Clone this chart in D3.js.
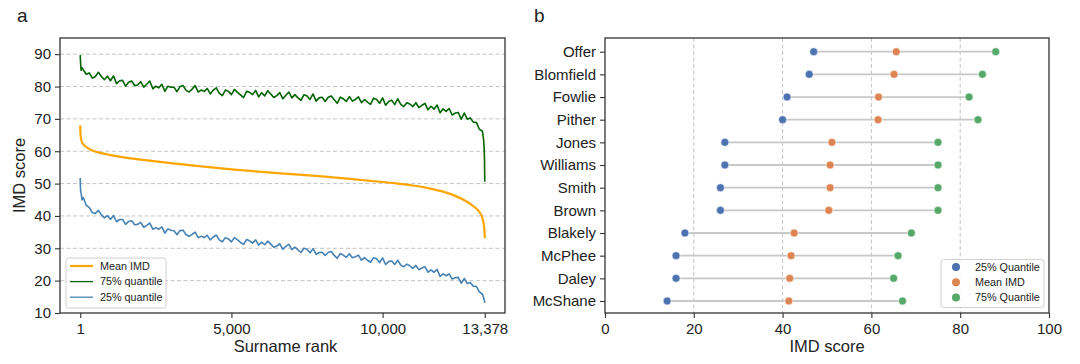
<!DOCTYPE html>
<html><head><meta charset="utf-8">
<script src="https://cdn.jsdelivr.net/npm/d3@7"></script>
<style>
html,body{margin:0;padding:0;background:#fff;}
svg{display:block;font-family:"Liberation Sans",Arial,sans-serif;}
</style></head>
<body><svg id="c" width="1080" height="364"></svg>
<script>
// ---------- Panel a data ----------
const meanRanks = [1,5,20,50,100,200,400,700,1000,1500,2000,3000,4000,5000,6000,7000,8000,9000,10000,10500,11000,11500,12000,12400,12750,13000,13200,13300,13350,13370,13378];
const meanIMD   = [68.0,66.0,64.2,63.0,62.2,61.3,60.2,59.4,58.8,58.0,57.4,56.3,55.3,54.4,53.6,52.9,52.2,51.4,50.5,50.0,49.4,48.6,47.5,46.2,44.6,43.0,41.2,39.3,37.0,35.2,33.1];

const qRanks = [1,10,30,60,
 100,200,300,400,500,600,700,800,900,1000,
 1100,1200,1300,1400,1500,1600,1700,1800,1900,2000,
 2100,2200,2300,2400,2500,2600,2700,2800,2900,3000,
 3100,3200,3300,3400,3500,3600,3700,3800,3900,4000,
 4100,4200,4300,4400,4500,4600,4700,4800,4900,5000,
 5100,5200,5300,5400,5500,5600,5700,5800,5900,6000,
 6100,6200,6300,6400,6500,6600,6700,6800,6900,7000,
 7100,7200,7300,7400,7500,7600,7700,7800,7900,8000,
 8100,8200,8300,8400,8500,8600,8700,8800,8900,9000,
 9100,9200,9300,9400,9500,9600,9700,9800,9900,10000,
 10100,10200,10300,10400,10500,10600,10700,10800,10900,11000,
 11100,11200,11300,11400,11500,11600,11700,11800,11900,12000,
 12100,12200,12300,12400,12500,12600,12700,12800,12900,13000,
 13100,13200,13300,13340,13360,13370,13378];

const q75 = [89.7,87.5,85.0,85.8,
 85.2,83.8,84.2,82.6,83.1,84.4,83.1,82.1,83.2,81.8,
 83.3,80.9,81.8,81.9,80.1,81.3,81.7,80.3,80.5,81.5,
 79.8,80.7,81.7,79.3,80.1,79.6,80.7,78.5,80.1,79.8,
 79.8,78.4,80.0,80.3,78.8,78.3,79.2,80.3,78.3,78.9,
 78.5,79.4,77.7,78.9,79.6,77.9,77.2,78.9,78.5,77.5,
 79.1,78.2,77.4,76.6,78.5,78.2,77.5,78.8,76.8,78.1,
 77.1,78.7,77.7,76.6,77.2,78.1,76.2,77.3,78.3,76.5,
 77.5,76.5,75.7,77.5,77.1,76.0,77.7,75.5,76.5,76.7,
 75.4,76.7,77.1,75.9,74.8,76.7,76.2,75.4,76.9,75.5,
 76.0,76.8,75.0,76.0,75.2,74.5,76.4,76.0,74.8,76.5,
 74.2,75.4,75.8,74.4,76.2,74.5,73.8,75.0,74.6,73.8,
 75.0,73.5,74.2,74.8,72.8,73.9,73.0,74.3,71.9,73.1,
 72.3,73.2,71.2,71.8,72.0,69.9,71.8,69.9,70.3,69.0,
 68.9,66.8,66.2,63.5,60.5,57.0,50.6];

const q25 = [51.7,48.0,46.9,45.0,
 45.7,43.3,42.6,41.0,40.8,41.7,40.4,39.4,40.1,39.0,
 40.1,38.2,38.9,38.9,37.4,38.3,38.5,37.3,37.4,38.0,
 36.5,37.1,37.8,35.9,36.4,35.9,36.6,34.7,36.0,35.6,
 35.4,34.2,35.5,35.6,34.2,33.7,34.3,35.0,33.3,33.7,
 33.3,34.0,32.6,33.5,34.1,32.6,32.0,33.3,32.9,32.0,
 33.3,32.6,31.8,31.2,32.7,32.3,31.6,32.6,31.0,31.9,
 31.1,32.2,31.3,30.3,30.7,31.4,29.7,30.6,31.2,29.6,
 30.4,29.5,28.7,30.0,29.7,28.6,29.9,28.1,28.7,28.8,
 27.8,28.7,29.0,27.8,26.9,28.4,27.9,27.2,28.3,27.1,
 27.4,27.9,26.3,27.1,26.3,25.7,27.1,26.8,25.6,27.0,
 25.0,25.9,26.1,25.0,26.3,24.8,24.3,25.1,24.6,23.8,
 24.7,23.4,23.9,24.3,22.6,23.3,22.6,23.5,21.3,22.1,
 21.5,22.1,20.5,20.9,21.0,19.2,20.7,19.1,19.4,18.3,
 18.2,16.5,15.8,14.8,14.0,13.6,13.1];

const rankTicks = [1,5000,10000,13378];
const imdTicksA = [10,20,30,40,50,60,70,80,90];

// ---------- Panel b data ----------
const surnames = ["Offer","Blomfield","Fowlie","Pither","Jones","Williams","Smith","Brown","Blakely","McPhee","Daley","McShane"];
const quant25  = [47,46,41,40,27,27,26,26,18,16,16,14];
const meanB    = [65.6,65.1,61.6,61.5,51.1,50.7,50.7,50.4,42.6,41.9,41.6,41.4];
const quant75  = [88,85,82,84,75,75,75,75,69,66,65,67];
const imdTicksB = [0,20,40,60,80,100];

// ---------- drawing ----------
const svg = d3.select("#c");
const axisCol = "#333";
const gridCol = "#c4c4c4";
const tickFont = 15;

function styleAxis(g){
  g.select(".domain").remove();
  g.selectAll(".tick line").attr("stroke",axisCol).attr("stroke-width",1.1);
  g.selectAll(".tick text").attr("fill","#222").style("font-size",tickFont+"px")
   .style("font-family",'"Liberation Sans",Arial,sans-serif');
}

// Panel a
const A = {l:60,r:505,t:38,b:313};
const xa = d3.scaleLinear().domain([-669,14047]).range([A.l,A.r]);
const ya = d3.scaleLinear().domain([10,95]).range([A.b,A.t]);

svg.append("defs").append("clipPath").attr("id","clipA")
  .append("rect").attr("x",A.l).attr("y",A.t).attr("width",A.r-A.l).attr("height",A.b-A.t);

svg.append("g").selectAll("line").data(imdTicksA.filter(d=>d>10)).join("line")
  .attr("x1",A.l).attr("x2",A.r).attr("y1",d=>ya(d)).attr("y2",d=>ya(d))
  .attr("stroke",gridCol).attr("stroke-width",1).attr("stroke-dasharray","4,2.5");

const lineGen = (rs,vs,curve)=>d3.line().curve(curve||d3.curveLinear).x((d,i)=>xa(rs[i])).y(d=>ya(d))(vs);
const gl = svg.append("g").attr("clip-path","url(#clipA)");
gl.append("path").attr("d",lineGen(meanRanks,meanIMD,d3.curveMonotoneX)).attr("fill","none")
  .attr("stroke","#ffa500").attr("stroke-width",2.2).attr("stroke-linejoin","round");
gl.append("path").attr("d",lineGen(qRanks,q75)).attr("fill","none")
  .attr("stroke","#006400").attr("stroke-width",1.6).attr("stroke-linejoin","round");
gl.append("path").attr("d",lineGen(qRanks,q25)).attr("fill","none")
  .attr("stroke","#4682b4").attr("stroke-width",1.6).attr("stroke-linejoin","round");

const axA_x = svg.append("g").attr("transform",`translate(0,${A.b})`)
  .call(d3.axisBottom(xa).tickValues(rankTicks).tickFormat(d3.format(",")).tickSize(5).tickPadding(5));
styleAxis(axA_x);
const axA_y = svg.append("g").attr("transform",`translate(${A.l},0)`)
  .call(d3.axisLeft(ya).tickValues(imdTicksA).tickSize(5).tickPadding(4));
styleAxis(axA_y);

svg.append("rect").attr("x",A.l).attr("y",A.t).attr("width",A.r-A.l).attr("height",A.b-A.t)
  .attr("fill","none").attr("stroke",axisCol).attr("stroke-width",1.3);

svg.append("text").attr("x",(A.l+A.r)/2 + 3).attr("y",352).attr("text-anchor","middle")
  .style("font-size","16.5px").attr("fill","#222").text("Surname rank");
svg.append("text").attr("transform",`translate(25,${(A.t+A.b)/2}) rotate(-90)`).attr("text-anchor","middle")
  .style("font-size","16.5px").attr("fill","#222").text("IMD score");
svg.append("text").attr("x",17).attr("y",22).style("font-size","19px").attr("fill","#222").text("a");

// legend a
const legA = svg.append("g");
legA.append("rect").attr("x",66).attr("y",258).attr("width",100).attr("height",50).attr("rx",2.5)
  .attr("fill","rgba(255,255,255,0.85)").attr("stroke","#d0d0d0").attr("stroke-width",1);
const legAItems = [["Mean IMD","#ffa500",2.2],["75% quantile","#006400",1.3],["25% quantile","#4682b4",1.3]];
legAItems.forEach((it,i)=>{
  const yy = 266 + i*15.6;
  legA.append("line").attr("x1",70).attr("x2",93).attr("y1",yy).attr("y2",yy).attr("stroke",it[1]).attr("stroke-width",it[2]);
  legA.append("text").attr("x",100).attr("y",yy+3.8).style("font-size","10.8px").attr("fill","#222").text(it[0]);
});

// Panel b
const B = {l:605,r:1049,t:38,b:313};
const xb = d3.scaleLinear().domain([0,100]).range([B.l,B.r]);
const yb = d3.scalePoint().domain(surnames).range([51.7,301]);

svg.append("g").selectAll("line").data(imdTicksB.filter(d=>d>0&&d<100)).join("line")
  .attr("x1",d=>xb(d)).attr("x2",d=>xb(d)).attr("y1",B.t).attr("y2",B.b)
  .attr("stroke",gridCol).attr("stroke-width",1).attr("stroke-dasharray","4,2.5");

const rows = surnames.map((s,i)=>({s,q25:quant25[i],m:meanB[i],q75:quant75[i]}));
svg.append("g").selectAll("line").data(rows).join("line")
  .attr("x1",d=>xb(d.q25)).attr("x2",d=>xb(d.q75)).attr("y1",d=>yb(d.s)).attr("y2",d=>yb(d.s))
  .attr("stroke","#c8c8c8").attr("stroke-width",1.8);
const dotCols = ["#4c72b0","#dd8452","#55a868"];
const keys = ["q25","m","q75"];
keys.forEach((k,j)=>{
  svg.append("g").selectAll("circle").data(rows).join("circle")
    .attr("cx",d=>xb(d[k])).attr("cy",d=>yb(d.s)).attr("r",4)
    .attr("fill",dotCols[j]).attr("stroke","#fff").attr("stroke-width",0.6);
});

const axB_x = svg.append("g").attr("transform",`translate(0,${B.b})`)
  .call(d3.axisBottom(xb).tickValues(imdTicksB).tickSize(5).tickPadding(5));
styleAxis(axB_x);
const axB_y = svg.append("g").attr("transform",`translate(${B.l},0)`)
  .call(d3.axisLeft(yb).tickSize(5).tickPadding(4));
styleAxis(axB_y);

svg.append("rect").attr("x",B.l).attr("y",B.t).attr("width",B.r-B.l).attr("height",B.b-B.t)
  .attr("fill","none").attr("stroke",axisCol).attr("stroke-width",1.3);
svg.append("text").attr("x",xb(50)).attr("y",352).attr("text-anchor","middle")
  .style("font-size","16.5px").attr("fill","#222").text("IMD score");
svg.append("text").attr("x",534).attr("y",22).style("font-size","19px").attr("fill","#222").text("b");

// legend b
const legB = svg.append("g");
legB.append("rect").attr("x",941).attr("y",259.5).attr("width",103).attr("height",48).attr("rx",2.5)
  .attr("fill","rgba(255,255,255,0.85)").attr("stroke","#d0d0d0").attr("stroke-width",1);
const legBItems = ["25% Quantile","Mean IMD","75% Quantile"];
legBItems.forEach((t,i)=>{
  const yy = 267 + i*15.2;
  legB.append("circle").attr("cx",956).attr("cy",yy).attr("r",4).attr("fill",dotCols[i]);
  legB.append("text").attr("x",975).attr("y",yy+3.8).style("font-size","10.8px").attr("fill","#222").text(t);
});
</script>
</body></html>
